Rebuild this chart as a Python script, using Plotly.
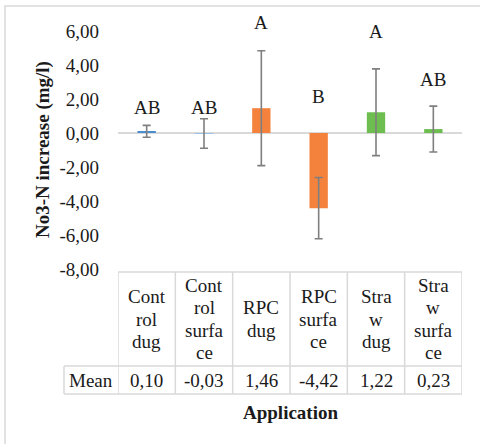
import plotly.graph_objects as go

# Treatments and their mean NO3-N change (mg/l) with error bar half-widths
categories = ["Control dug", "Control surface", "RPC dug", "RPC surface", "Straw dug", "Straw surface"]
header_labels = ["Cont<br>rol<br>dug", "Cont<br>rol<br>surfa<br>ce", "RPC<br>dug",
                 "RPC<br>surfa<br>ce", "Stra<br>w<br>dug", "Stra<br>w<br>surfa<br>ce"]
means = [0.10, -0.03, 1.46, -4.42, 1.22, 0.23]
errors = [0.35, 0.87, 3.38, 1.80, 2.55, 1.35]
groups = ["AB", "AB", "A", "B", "A", "AB"]

# Heights (in axis units) at which the significance letters sit
letter_y = [1.49, 1.49, 6.5, 2.14, 5.96, 3.14]

y_ticks = [-8, -6, -4, -2, 0, 2, 4, 6]

bar_colors = ["#4A8DD0", "#9DC3E6", "#F4823C", "#F4823C", "#6DBE4F", "#6DBE4F"]

FONT = "Liberation Serif, Times New Roman, serif"
FS = 19
TXT = "#1a1a1a"
GRID = "#D9D9D9"

W, H = 480, 444
L, R, T, B = 118, 18, 31, 175
PW, PH = W - L - R, H - T - B
Y0, Y1 = -8, 6
LINE_PX = 22.5  # line pitch of the wrapped header labels


def px_x(px):
    return (px - L) / PW


def px_y(py):
    return (H - B - py) / PH


def val_y(v):
    return (v - Y0) / (Y1 - Y0)


def fmt(v):
    return f"{v:.2f}".replace(".", ",")


def label(**kw):
    d = dict(showarrow=False, xanchor="center", yanchor="middle",
             font=dict(family=FONT, size=FS, color=TXT))
    d.update(kw)
    return d


fig = go.Figure()
fig.add_trace(go.Bar(
    x=categories, y=means, width=0.32,
    marker=dict(color=bar_colors, line=dict(width=0)),
    error_y=dict(type="data", array=errors, visible=True,
                 color="#7F7F7F", thickness=1.6, width=4),
    cliponaxis=False, showlegend=False,
))

annotations = []
for cat, g, yy in zip(categories, groups, letter_y):
    annotations.append(label(x=cat, y=val_y(yy), xref="x", yref="paper", text=g))

# Data table under the plot
top, mid, bot = 272, 366, 394
shapes = []
n = len(categories)
line = dict(color=GRID, width=1.5)
shapes.append(dict(type="line", xref="x", yref="paper", x0=-0.5, x1=n - 0.5,
                   y0=px_y(top), y1=px_y(top), line=line))
for yy in (mid, bot):
    shapes.append(dict(type="line", xref="paper", yref="paper", x0=px_x(64), x1=1,
                       y0=px_y(yy), y1=px_y(yy), line=line))
shapes.append(dict(type="line", xref="paper", yref="paper", x0=px_x(64), x1=px_x(64),
                   y0=px_y(mid), y1=px_y(bot), line=line))
for i in range(n + 1):
    shapes.append(dict(type="line", xref="x", yref="paper", x0=i - 0.5, x1=i - 0.5,
                       y0=px_y(top), y1=px_y(bot), line=line))

head_c = (top + mid) / 2
for cat, lab, v in zip(categories, header_labels, means):
    parts = lab.split("<br>")
    for k, part in enumerate(parts):
        py = head_c + (k - (len(parts) - 1) / 2) * LINE_PX
        annotations.append(label(x=cat, y=px_y(py), xref="x", yref="paper", text=part))
    annotations.append(label(x=cat, y=px_y((mid + bot) / 2), xref="x", yref="paper", text=fmt(v)))
annotations.append(label(x=px_x(91), y=px_y((mid + bot) / 2), xref="paper", yref="paper",
                         text="Mean"))

# Axis titles
annotations.append(label(x=0.5, y=px_y(412), xref="paper", yref="paper",
                         text="<b>Application</b>"))
annotations.append(label(x=px_x(43), y=px_y(150), xref="paper", yref="paper",
                         text="<b>No3-N increase (mg/l)</b>", textangle=-90))

# Chart area border
shapes.append(dict(type="rect", xref="paper", yref="paper",
                   x0=px_x(5), x1=px_x(490), y0=px_y(6), y1=px_y(460),
                   line=dict(color=GRID, width=1.5), layer="below"))

fig.update_layout(
    width=W, height=H,
    margin=dict(l=L, r=R, t=T, b=B, pad=0),
    paper_bgcolor="white", plot_bgcolor="white",
    font=dict(family=FONT, size=FS, color=TXT),
    xaxis=dict(type="category", categoryorder="array", categoryarray=categories,
               range=[-0.5, n - 0.5], showticklabels=False, showgrid=False,
               showline=False, zeroline=False, ticks=""),
    yaxis=dict(range=[Y0, Y1], tickmode="array", tickvals=y_ticks,
               ticktext=[fmt(t) for t in y_ticks], showgrid=False,
               zeroline=True, zerolinecolor=GRID, zerolinewidth=1.5,
               showline=False, ticks="", ticklabelstandoff=18,
               tickfont=dict(family=FONT, size=FS, color=TXT)),
    annotations=annotations, shapes=shapes,
)

fig.write_html("out.html")
